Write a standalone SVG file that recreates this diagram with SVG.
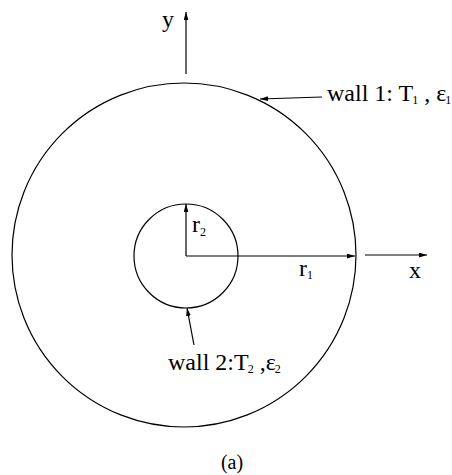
<svg xmlns="http://www.w3.org/2000/svg" width="452" height="475" viewBox="0 0 452 475">
<style>
.ln{stroke:#000;stroke-width:1.2;fill:none}
.t{font-family:"Liberation Serif","Times New Roman",serif;font-size:24px;fill:#000}
.s{font-size:12px}
</style>
<defs>
<marker id="ah" viewBox="0 0 10 6" refX="10" refY="3" markerWidth="8" markerHeight="5" markerUnits="userSpaceOnUse" orient="auto">
<path d="M0,0 L10,3 L0,6 Z" fill="#000"/>
</marker>
</defs>
<rect width="452" height="475" fill="#fff"/>
<g id="wall1">
<circle class="ln" cx="184" cy="255" r="172"/>
<text class="t" x="327" y="101">wall 1: T<tspan class="s" dy="3" dx="-1">1</tspan><tspan dy="-3"> , ε</tspan><tspan class="s" dy="3" dx="-1">1</tspan></text>
</g>
<g id="wall2">
<circle class="ln" cx="186" cy="256" r="52"/>
<text class="t" x="168" y="370">wall 2:T<tspan class="s" dy="3" dx="-1">2</tspan><tspan dy="-3"> ,ε</tspan><tspan class="s" dy="3" dx="-1">2</tspan></text>
</g>
<g id="labels">
<text class="t" x="162" y="27">y</text>
<text class="t" x="409" y="278">x</text>
<text class="t" x="299" y="276">r<tspan class="s" dy="3">1</tspan></text>
<text class="t" x="192" y="232">r<tspan class="s" dy="4">2</tspan></text>
<text class="t" x="232" y="469" text-anchor="middle" style="font-size:20px">(a)</text>
</g>
<g id="connectors">
<line class="ln" x1="186" y1="74" x2="186" y2="12" marker-end="url(#ah)"/>
<line class="ln" x1="186" y1="256" x2="186" y2="204" marker-end="url(#ah)"/>
<line class="ln" x1="186" y1="256" x2="355" y2="256" marker-end="url(#ah)"/>
<line class="ln" x1="365" y1="255" x2="427" y2="255" marker-end="url(#ah)"/>
<line class="ln" x1="322" y1="97" x2="260" y2="99" marker-end="url(#ah)"/>
<line class="ln" x1="194" y1="345" x2="187" y2="308" marker-end="url(#ah)"/>
</g>
</svg>
